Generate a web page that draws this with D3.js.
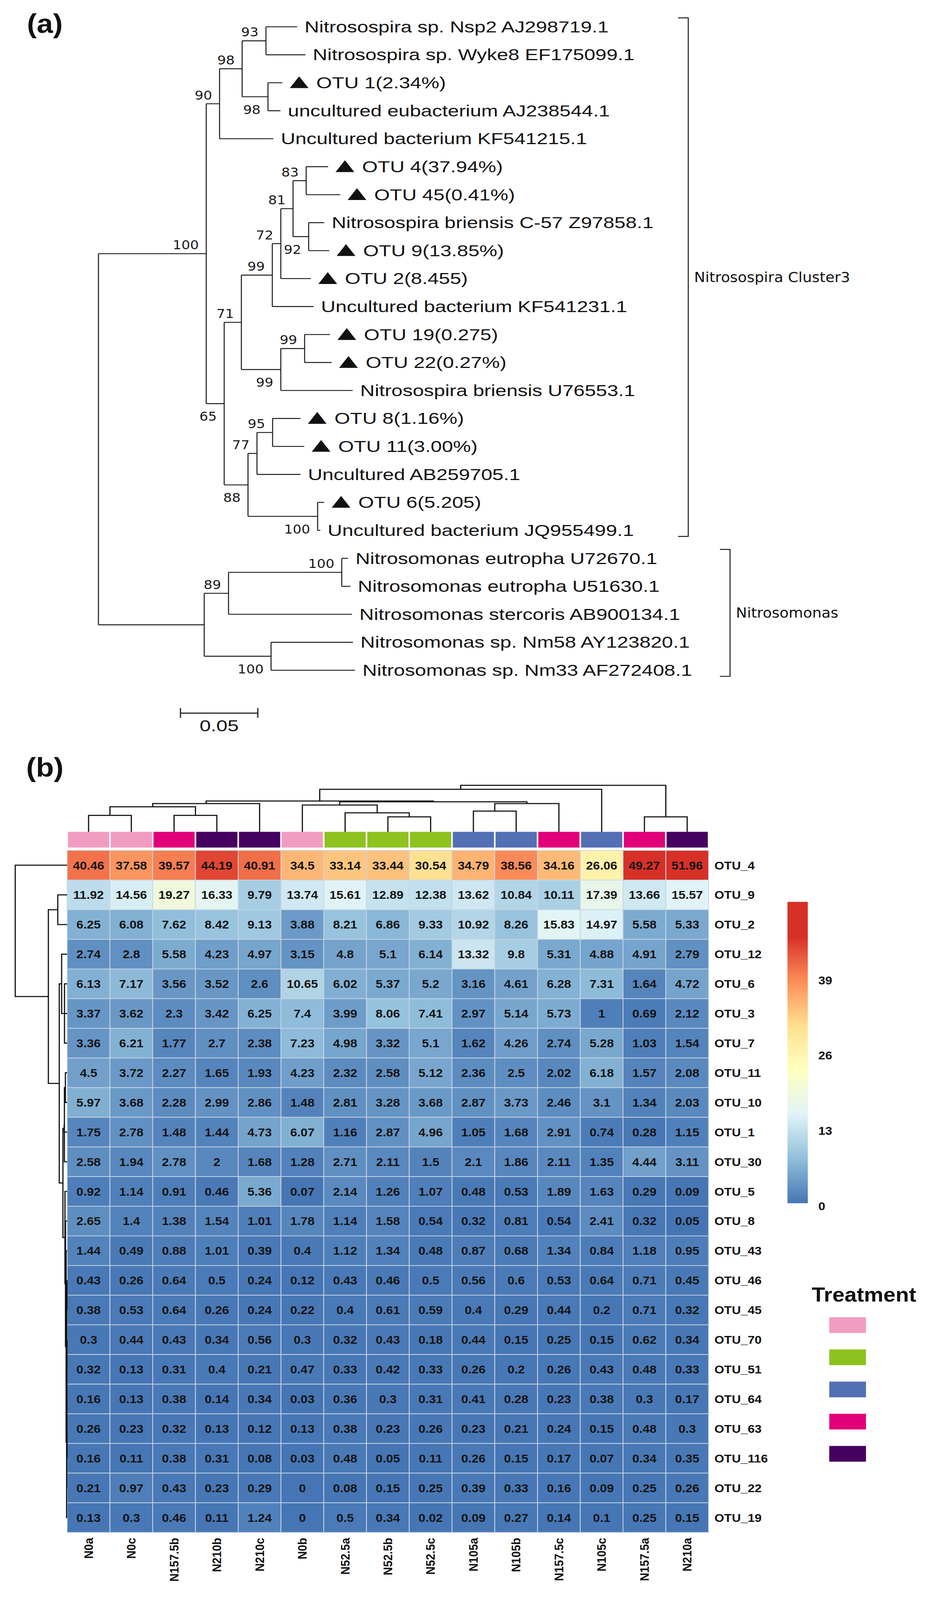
<!DOCTYPE html>
<html lang="en">
<head>
<meta charset="UTF-8">
<title>amoA tree and OTU heatmap</title>
<script src="https://d3js.org/d3.v7.min.js"></script>
<style>
  html, body { margin: 0; padding: 0; background: #fff; overflow: hidden; }
  svg { display: block; }
  .sans { font-family: "Liberation Sans", Arial, sans-serif; }
  .hm { font-family: "Liberation Sans", Arial, sans-serif; font-weight: bold; }
  .dv { font-family: "DejaVu Sans", Verdana, sans-serif; }
</style>
</head>
<body>
<svg id="chart"></svg>
<script>
// ---------- (a) tree: Newick, bootstrap values as node labels ----------
const treeNewick = `
((((('Nitrosospira sp. Nsp2 AJ298719.1':0.0202,'Nitrosospira sp. Wyke8 EF175099.1':0.0255)93:0.0154,
    ('OTU 1(2.34%)':0.0093,'uncultured eubacterium AJ238544.1':0.0081)98:0.0167)98:0.0146,
   'Uncultured bacterium KF541215.1':0.0348)90:0.0086,
  (((((('OTU 4(37.94%)':0.0142,'OTU 45(0.41%)':0.0220)83:0.0085,
        ('Nitrosospira briensis C-57 Z97858.1':0.0101,'OTU 9(13.85%)':0.0133)92:0.0101)81:0.0079,
       'OTU 2(8.455)':0.0195)72:0.0055,
      'Uncultured bacterium KF541231.1':0.0267)99:0.0200,
     (('OTU 19(0.275)':0.0164,'OTU 22(0.27%)':0.0175)99:0.0154,
      'Nitrosospira briensis U76553.1':0.0465)99:0.0255)71:0.0111,
    ((('OTU 8(1.16%)':0.0180,'OTU 11(3.00%)':0.0205)95:0.0101,
      'Uncultured AB259705.1':0.0281)77:0.0058,
     ('OTU 6(5.205)':0.0043,'Uncultured bacterium JQ955499.1':0.0017)100:0.0450)88:0.0154)65:0.0116)100:0.0697,
 ((('Nitrosomonas eutropha U72670.1':0.0041,'Nitrosomonas eutropha U51630.1':0.0056)100:0.0732,
   'Nitrosomonas stercoris AB900134.1':0.0798)89:0.0157,
  ('Nitrosomonas sp. Nm58 AY123820.1':0.0530,'Nitrosomonas sp. Nm33 AF272408.1':0.0543)100:0.0432):0.0684);
`;
const cladeNames = ["Nitrosospira Cluster3", "Nitrosomonas"];
const cladeFirstLeaf = [0, 19];
const cladeLastLeaf = [18, 23];
const scaleBarValue = 0.05;

// ---------- (b) heatmap ----------
const otus = ["OTU_4", "OTU_9", "OTU_2", "OTU_12", "OTU_6", "OTU_3", "OTU_7", "OTU_11", "OTU_10", "OTU_1",
  "OTU_30", "OTU_5", "OTU_8", "OTU_43", "OTU_46", "OTU_45", "OTU_70", "OTU_51", "OTU_64", "OTU_63",
  "OTU_116", "OTU_22", "OTU_19"];
const samples = ["N0a", "N0c", "N157.5b", "N210b", "N210c", "N0b", "N52.5a", "N52.5b", "N52.5c",
  "N105a", "N105b", "N157.5c", "N105c", "N157.5a", "N210a"];
const sampleTreatment = ["N0", "N0", "N157.5", "N210", "N210", "N0", "N52.5", "N52.5", "N52.5",
  "N105", "N105", "N157.5", "N105", "N157.5", "N210"];
const treatments = ["N0", "N52.5", "N105", "N157.5", "N210"];
const treatmentColors = ["#F29CC2", "#8DC21F", "#5470B5", "#E2007A", "#46005F"];

const abundance = [
  [40.46, 37.58, 39.57, 44.19, 40.91, 34.5, 33.14, 33.44, 30.54, 34.79, 38.56, 34.16, 26.06, 49.27, 51.96],
  [11.92, 14.56, 19.27, 16.33, 9.79, 13.74, 15.61, 12.89, 12.38, 13.62, 10.84, 10.11, 17.39, 13.66, 15.57],
  [6.25, 6.08, 7.62, 8.42, 9.13, 3.88, 8.21, 6.86, 9.33, 10.92, 8.26, 15.83, 14.97, 5.58, 5.33],
  [2.74, 2.8, 5.58, 4.23, 4.97, 3.15, 4.8, 5.1, 6.14, 13.32, 9.8, 5.31, 4.88, 4.91, 2.79],
  [6.13, 7.17, 3.56, 3.52, 2.6, 10.65, 6.02, 5.37, 5.2, 3.16, 4.61, 6.28, 7.31, 1.64, 4.72],
  [3.37, 3.62, 2.3, 3.42, 6.25, 7.4, 3.99, 8.06, 7.41, 2.97, 5.14, 5.73, 1, 0.69, 2.12],
  [3.36, 6.21, 1.77, 2.7, 2.38, 7.23, 4.98, 3.32, 5.1, 1.62, 4.26, 2.74, 5.28, 1.03, 1.54],
  [4.5, 3.72, 2.27, 1.65, 1.93, 4.23, 2.32, 2.58, 5.12, 2.36, 2.5, 2.02, 6.18, 1.57, 2.08],
  [5.97, 3.68, 2.28, 2.99, 2.86, 1.48, 2.81, 3.28, 3.68, 2.87, 3.73, 2.46, 3.1, 1.34, 2.03],
  [1.75, 2.78, 1.48, 1.44, 4.73, 6.07, 1.16, 2.87, 4.96, 1.05, 1.68, 2.91, 0.74, 0.28, 1.15],
  [2.58, 1.94, 2.78, 2, 1.68, 1.28, 2.71, 2.11, 1.5, 2.1, 1.86, 2.11, 1.35, 4.44, 3.11],
  [0.92, 1.14, 0.91, 0.46, 5.36, 0.07, 2.14, 1.26, 1.07, 0.48, 0.53, 1.89, 1.63, 0.29, 0.09],
  [2.65, 1.4, 1.38, 1.54, 1.01, 1.78, 1.14, 1.58, 0.54, 0.32, 0.81, 0.54, 2.41, 0.32, 0.05],
  [1.44, 0.49, 0.88, 1.01, 0.39, 0.4, 1.12, 1.34, 0.48, 0.87, 0.68, 1.34, 0.84, 1.18, 0.95],
  [0.43, 0.26, 0.64, 0.5, 0.24, 0.12, 0.43, 0.46, 0.5, 0.56, 0.6, 0.53, 0.64, 0.71, 0.45],
  [0.38, 0.53, 0.64, 0.26, 0.24, 0.22, 0.4, 0.61, 0.59, 0.4, 0.29, 0.44, 0.2, 0.71, 0.32],
  [0.3, 0.44, 0.43, 0.34, 0.56, 0.3, 0.32, 0.43, 0.18, 0.44, 0.15, 0.25, 0.15, 0.62, 0.34],
  [0.32, 0.13, 0.31, 0.4, 0.21, 0.47, 0.33, 0.42, 0.33, 0.26, 0.2, 0.26, 0.43, 0.48, 0.33],
  [0.16, 0.13, 0.38, 0.14, 0.34, 0.03, 0.36, 0.3, 0.31, 0.41, 0.28, 0.23, 0.38, 0.3, 0.17],
  [0.26, 0.23, 0.32, 0.13, 0.12, 0.13, 0.38, 0.23, 0.26, 0.23, 0.21, 0.24, 0.15, 0.48, 0.3],
  [0.16, 0.11, 0.38, 0.31, 0.08, 0.03, 0.48, 0.05, 0.11, 0.26, 0.15, 0.17, 0.07, 0.34, 0.35],
  [0.21, 0.97, 0.43, 0.23, 0.29, 0, 0.08, 0.15, 0.25, 0.39, 0.33, 0.16, 0.09, 0.25, 0.26],
  [0.13, 0.3, 0.46, 0.11, 1.24, 0, 0.5, 0.34, 0.02, 0.09, 0.27, 0.14, 0.1, 0.25, 0.15]
];

// sample dendrogram: [left, right, height]; ids >= 15 refer to earlier merges
const colMerges = [
  [0, 1, 46], [2, 3, 46], [15, 16, 70], [17, 4, 79],
  [7, 8, 42], [6, 19, 53], [5, 20, 75],
  [9, 10, 58], [22, 11, 79], [21, 23, 84],
  [18, 24, 86], [25, 12, 119], [13, 14, 42], [26, 27, 130]
];
const paletteColors = ["#4575B4", "#91BFDB", "#E0F3F8", "#FFFFBF", "#FEE090", "#FC8D59", "#D73027"];
const colorTop = 46;
const legendMax = 52;
const legendTicks = [0, 13, 26, 39];

// the drawing is laid out on a 2386 x 4476 canvas and fitted to whatever the window gives
const W = 2386, H = 4476;
const vw = window.innerWidth || W, vh = window.innerHeight || H;
const svg = d3.select("#chart")
  .attr("width", vw).attr("height", vh)
  .attr("viewBox", `0 0 ${W} ${H}`)
  .attr("preserveAspectRatio", "none");
svg.append("rect").attr("width", W).attr("height", H).attr("fill", "#fff");

// ======================= (a) tree =======================
function parseNewick(str) {
  const s = str.replace(/\s+(?=(?:[^']*'[^']*')*[^']*$)/g, "");
  let i = 0;
  function readNode() {
    const node = { children: [] };
    if (s[i] === "(") {
      i++;
      node.children.push(readNode());
      while (s[i] === ",") { i++; node.children.push(readNode()); }
      i++;
    }
    let label = "";
    if (s[i] === "'") {
      i++;
      while (s[i] !== "'") label += s[i++];
      i++;
    } else {
      while (i < s.length && !":,();".includes(s[i])) label += s[i++];
    }
    node.name = label;
    node.len = 0;
    if (s[i] === ":") {
      i++;
      let num = "";
      while (i < s.length && !",();".includes(s[i])) num += s[i++];
      node.len = +num;
    }
    return node;
  }
  return readNode();
}

const root = d3.hierarchy(parseNewick(treeNewick), d => d.children.length ? d.children : null);
root.eachBefore(d => { d.dist = d.parent ? d.parent.dist + d.data.len : 0; });

const treeX = d3.scaleLinear().domain([0, scaleBarValue]).range([252, 450]);
const leaves = root.leaves();
const leafY = d3.scaleLinear().domain([0, leaves.length - 1]).range([75, 1875]);
leaves.forEach((d, i) => { d.py = leafY(i); });
root.eachAfter(d => {
  if (d.children) d.py = (d.children[0].py + d.children[d.children.length - 1].py) / 2;
});

const gTree = svg.append("g");
const treeLines = gTree.append("g").attr("stroke", "#1a1a1a").attr("stroke-width", 2.6).attr("fill", "none");
root.descendants().filter(d => d.children).forEach(d => {
  const x = treeX(d.dist);
  treeLines.append("line").attr("x1", x).attr("x2", x)
    .attr("y1", d.children[0].py).attr("y2", d.children[d.children.length - 1].py);
  d.children.forEach(c => {
    treeLines.append("line").attr("x1", x).attr("x2", treeX(c.dist)).attr("y1", c.py).attr("y2", c.py);
  });
});

// bootstrap values: first child above its branch, second child below
root.descendants().filter(d => d.children && d.parent && d.data.name).forEach(d => {
  const first = d.parent.children.indexOf(d) === 0;
  gTree.append("text").attr("class", "dv")
    .attr("x", treeX(d.dist) - 19)
    .attr("y", first ? d.py - 12 : d.py + 48)
    .attr("text-anchor", "end")
    .attr("font-size", 35)
    .attr("fill", "#1a1a1a")
    .text(d.data.name);
});

function stretchedText(parent, x, y, txt, size) {
  parent.append("g").attr("transform", `translate(${x},${y}) scale(1.17,1)`)
    .append("text").attr("class", "sans").attr("font-size", size).attr("fill", "#111").text(txt);
}

leaves.forEach(d => {
  const x0 = treeX(d.dist) + 19;
  const isOtu = d.data.name.startsWith("OTU");
  if (isOtu) {
    gTree.append("path")
      .attr("d", `M${x0},${d.py + 15}L${x0 + 48},${d.py + 15}L${x0 + 24},${d.py - 18}Z`)
      .attr("fill", "#111");
  }
  stretchedText(gTree, isOtu ? x0 + 68 : x0, d.py + 15.5, d.data.name, 44);
});

// clade brackets
const bracketX = [1762, 1869];
cladeNames.forEach((name, k) => {
  const top = leafY(cladeFirstLeaf[k]) - 25;
  const bot = leafY(cladeLastLeaf[k]) + 17;
  const bx = bracketX[k];
  gTree.append("path")
    .attr("d", `M${bx - 26},${top}H${bx}V${bot}H${bx - 26}`)
    .attr("fill", "none").attr("stroke", "#1a1a1a").attr("stroke-width", 2.6);
  gTree.append("text").attr("class", "dv")
    .attr("x", bx + 15).attr("y", (top + bot) / 2)
    .attr("dy", "0.36em")
    .attr("font-size", 38).attr("fill", "#111")
    .text(name);
});

// scale bar
const sbX = 462, sbY = 1995, sbLen = treeX(scaleBarValue) - treeX(0);
gTree.append("path")
  .attr("d", `M${sbX},${sbY}H${sbX + sbLen}M${sbX},${sbY - 14}V${sbY + 13}M${sbX + sbLen},${sbY - 14}V${sbY + 13}`)
  .attr("stroke", "#1a1a1a").attr("stroke-width", 3).attr("fill", "none");
gTree.append("g").attr("transform", `translate(${sbX + sbLen / 2},${sbY + 51}) scale(1.17,1)`)
  .append("text").attr("class", "sans").attr("font-size", 44).attr("text-anchor", "middle")
  .attr("fill", "#111").text(String(scaleBarValue));

svg.append("text").attr("class", "sans").attr("x", 69).attr("y", 92)
  .attr("font-size", 75).attr("font-weight", "bold").attr("fill", "#111").text("(a)");

// ======================= (b) heatmap =======================
svg.append("text").attr("class", "sans").attr("x", 67).attr("y", 2172)
  .attr("font-size", 75).attr("font-weight", "bold").attr("fill", "#111").text("(b)");

const xBand = d3.scaleBand().domain(samples).range([172, 1814]);
const yBand = d3.scaleBand().domain(otus).range([2379, 4287]);
const bw = xBand.bandwidth(), bh = yBand.bandwidth();

const color = d3.scaleLinear()
  .domain(d3.range(paletteColors.length).map(i => i * colorTop / (paletteColors.length - 1)))
  .range(paletteColors)
  .clamp(true);

const cells = [];
abundance.forEach((row, r) => row.forEach((v, c) => cells.push({ otu: otus[r], sample: samples[c], v })));

const gHm = svg.append("g");
gHm.selectAll("rect.cell").data(cells).join("rect")
  .attr("class", "cell")
  .attr("x", d => xBand(d.sample)).attr("y", d => yBand(d.otu))
  .attr("width", bw).attr("height", bh)
  .attr("fill", d => color(d.v))
  .attr("stroke", "#c9d4e3").attr("stroke-width", 2);

gHm.selectAll("text.val").data(cells).join("text")
  .attr("class", "val hm")
  .attr("x", d => xBand(d.sample) + bw / 2)
  .attr("y", d => yBand(d.otu) + bh / 2)
  .attr("dy", "0.36em")
  .attr("text-anchor", "middle")
  .attr("font-size", 32)
  .attr("fill", "#141414")
  .text(d => String(d.v));

// row labels
gHm.selectAll("text.rowlab").data(otus).join("text")
  .attr("class", "rowlab hm")
  .attr("x", 1829).attr("y", d => yBand(d) + bh / 2).attr("dy", "0.36em")
  .attr("font-size", 32).attr("fill", "#111").text(d => d);

// column labels
gHm.selectAll("text.collab").data(samples).join("text")
  .attr("class", "collab hm")
  .attr("transform", d => `translate(${xBand(d) + bw / 2 + 11},${4302}) rotate(-90)`)
  .attr("text-anchor", "end")
  .attr("font-size", 32).attr("fill", "#111").text(d => d);

// treatment annotation bar
const treatColor = d3.scaleOrdinal().domain(treatments).range(treatmentColors);
gHm.selectAll("rect.annot").data(samples).join("rect")
  .attr("class", "annot")
  .attr("x", d => xBand(d) + 2).attr("y", 2327)
  .attr("width", bw - 4).attr("height", 44)
  .attr("fill", (d, i) => treatColor(sampleTreatment[i]));

// sample dendrogram
const colDendY = d3.scaleLinear().domain([0, 130]).range([2327, 2197]);
const colNodes = samples.map(s => ({ x: xBand(s) + bw / 2, h: 0 }));
const gCol = gHm.append("g").attr("stroke", "#111").attr("stroke-width", 3).attr("fill", "none");
colMerges.forEach(([a, b, h]) => {
  const A = colNodes[a], B = colNodes[b];
  gCol.append("path")
    .attr("d", `M${A.x},${colDendY(A.h)}V${colDendY(h)}H${B.x}V${colDendY(B.h)}`);
  colNodes.push({ x: (A.x + B.x) / 2, h });
});

// OTU dendrogram: complete linkage on Euclidean distances
function hclustComplete(mat) {
  const dm = mat.map(a => mat.map(b => Math.sqrt(d3.sum(a, (v, k) => (v - b[k]) ** 2))));
  let nodes = mat.map((_, k) => ({ leaf: k, members: [k], height: 0 }));
  while (nodes.length > 1) {
    let bi = 0, bj = 1, best = Infinity;
    for (let i = 0; i < nodes.length; i++) {
      for (let j = i + 1; j < nodes.length; j++) {
        let m = 0;
        for (const p of nodes[i].members) for (const q of nodes[j].members) m = Math.max(m, dm[p][q]);
        if (m < best) { best = m; bi = i; bj = j; }
      }
    }
    const merged = { children: [nodes[bi], nodes[bj]], members: nodes[bi].members.concat(nodes[bj].members), height: best };
    nodes = nodes.filter((_, k) => k !== bi && k !== bj);
    nodes.push(merged);
  }
  return nodes[0];
}
const rowTree = hclustComplete(abundance);
const rowDendX = d3.scaleLinear().domain([0, rowTree.height]).range([172, 39]);
const gRow = gHm.append("g").attr("stroke", "#111").attr("stroke-width", 3).attr("fill", "none");
(function place(node) {
  if (!node.children) { node.y = yBand(otus[node.leaf]) + bh / 2; return; }
  node.children.forEach(place);
  node.children.sort((a, b) => a.y - b.y);
  node.y = (node.children[0].y + node.children[1].y) / 2;
  const [c0, c1] = node.children;
  gRow.append("path")
    .attr("d", `M${rowDendX(c0.height)},${c0.y}H${rowDendX(node.height)}V${c1.y}H${rowDendX(c1.height)}`);
})(rowTree);

// colour key
const legendY = d3.scaleLinear().domain([0, legendMax]).range([3366, 2523]);
const grad = svg.append("defs").append("linearGradient").attr("id", "keyGrad")
  .attr("x1", 0).attr("y1", 1).attr("x2", 0).attr("y2", 0);
d3.range(0, legendMax + 0.01, 1).forEach(v => {
  grad.append("stop").attr("offset", v / legendMax).attr("stop-color", color(v));
});
svg.append("rect").attr("x", 2016).attr("y", legendY(legendMax))
  .attr("width", 52).attr("height", legendY(0) - legendY(legendMax))
  .attr("fill", "url(#keyGrad)");
svg.selectAll("text.keylab").data(legendTicks).join("text")
  .attr("class", "keylab hm")
  .attr("x", 2095).attr("y", d => legendY(d) + 8).attr("dy", "0.36em")
  .attr("font-size", 32).attr("fill", "#111").text(d => d);

// treatment legend
svg.append("text").attr("class", "hm").attr("x", 2078).attr("y", 3641)
  .attr("font-size", 56).attr("fill", "#111").text("Treatment");
svg.selectAll("rect.treat").data(treatments).join("rect")
  .attr("class", "treat")
  .attr("x", 2123).attr("y", (d, i) => 3685 + i * 90)
  .attr("width", 94).attr("height", 44)
  .attr("fill", d => treatColor(d));
</script>
</body>
</html>
